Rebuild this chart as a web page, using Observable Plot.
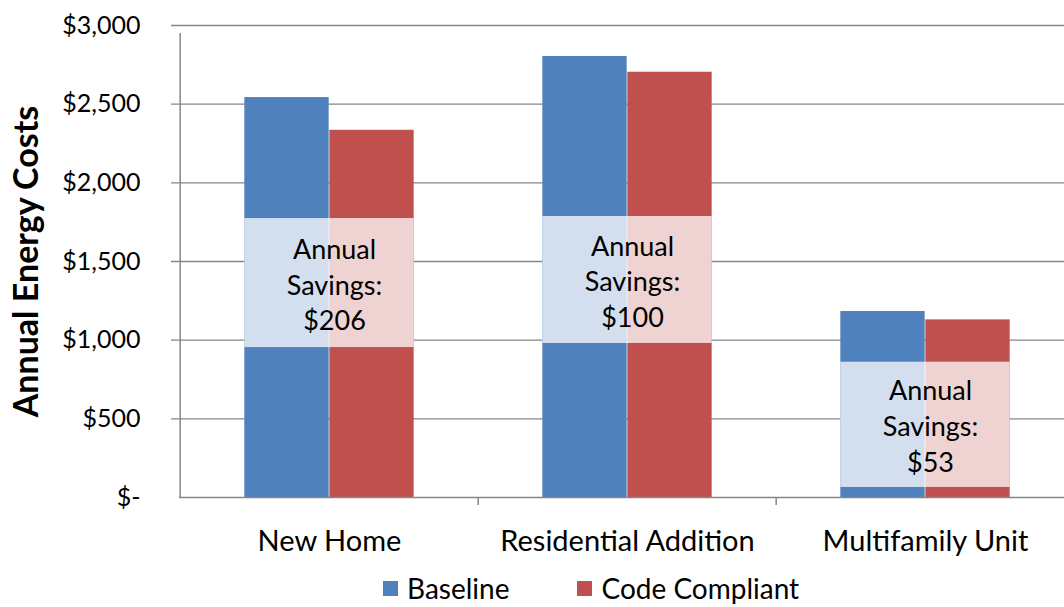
<!DOCTYPE html>
<html>
<head>
<meta charset="utf-8">
<script src="https://cdn.jsdelivr.net/npm/d3@7"></script>
<script src="https://cdn.jsdelivr.net/npm/@observablehq/plot@0.6"></script>
<style>
  html, body { margin: 0; padding: 0; background: #fff; overflow: hidden; }
  #chart svg { display: block; max-width: none !important; }
  .legend { display: flex; justify-content: flex-start; align-items: center; height: 44px; padding-top: 6px;
            font-family: Lato, "Open Sans", sans-serif; font-size: 28px; line-height: 28px; color: #000; }
  .legend .item { display: flex; align-items: center; }
  .legend .sw { width: 15px; height: 15px; margin-right: 9px; }
</style>
</head>
<body>
<div id="chart"></div>
<script>
// ---- data ----
const categories = ["New Home", "Residential Addition", "Multifamily Unit"];
const series = ["Baseline", "Code Compliant"];
const baseline = [2542, 2803, 1182];
const codeCompliant = [2334, 2703, 1129];
const savings = [206, 100, 53];
const boxLow = [953, 979, 64];
const boxHigh = [1773, 1786, 860];
const yTicks = [0, 500, 1000, 1500, 2000, 2500, 3000];
const yTickLabels = ["$-", "$500", "$1,000", "$1,500", "$2,000", "$2,500", "$3,000"];
const colors = ["#4f81bd", "#c0504d"];

// ---- layout ----
const width = 1075, height = 560;
const marginLeft = 179, marginRight = 0, marginTop = 25, marginBottom = 63;
const band = (width - marginLeft - marginRight) / categories.length;
const barW = 85;
const gap = (band - 2 * barW) / 2;
const font = "Lato, 'Open Sans', sans-serif";

const rows = categories.map((c, i) => ({
  cat: c, base: baseline[i], code: codeCompliant[i], sav: savings[i],
  lo: boxLow[i], hi: boxHigh[i], mid: (boxLow[i] + boxHigh[i]) / 2,
  label: "Annual\nSavings:\n$" + savings[i]
}));

const plot = Plot.plot({
  width, height, marginLeft, marginRight, marginTop, marginBottom,
  style: { fontFamily: font, background: "#fff", color: "#000", overflow: "visible" },
  x: { type: "band", domain: categories, padding: 0, label: null },
  y: { domain: [0, 3000], label: null },
  marks: [
    // gridlines (with left ticks)
    Plot.ruleY(yTicks.slice(1), { stroke: "#868686", strokeWidth: 1.3, insetLeft: -8 }),
    // bars
    Plot.barY(rows, { x: "cat", y: "base", fill: colors[0], insetLeft: gap, insetRight: gap + barW }),
    Plot.barY(rows, { x: "cat", y: "code", fill: colors[1], insetLeft: gap + barW, insetRight: gap }),
    // savings boxes
    Plot.barY(rows, { x: "cat", y1: "lo", y2: "hi", fill: "white", fillOpacity: 0.75, insetLeft: gap, insetRight: gap }),
    Plot.text(rows, { x: "cat", y: "mid", text: "label", fontSize: 27, lineHeight: 1.33, fill: "#000", dx: 5 }),
    // x axis line
    Plot.ruleY([0], { stroke: "#868686", strokeWidth: 1.5 }),
    // y axis line
    Plot.ruleX([categories[0]], { x: d => d, dx: -band / 2, y1: 0, y2: 3000, insetBottom: -8, stroke: "#868686", strokeWidth: 1.5 }),
    // category boundary ticks
    Plot.ruleX(categories.slice(1), { x: d => d, dx: -band / 2, y1: 0, y2: 0, insetBottom: -8, stroke: "#868686", strokeWidth: 1.5 }),
    Plot.axisY(yTicks, { tickSize: 0, tickPadding: 39, tickFormat: (d) => yTickLabels[yTicks.indexOf(d)], fontSize: 25, label: null }),
    Plot.axisX({ tickSize: 0, tickPadding: 33, fontSize: 29, label: null }),
    Plot.text(["Annual Energy Costs"], { frameAnchor: "left", rotate: -90, textAnchor: "middle", dx: -152, fontSize: 34, fontWeight: "bold", fill: "#000" })
  ]
});
document.getElementById("chart").appendChild(plot);

// legend
const legend = document.createElement("div");
legend.className = "legend";
series.forEach((s, i) => {
  const item = document.createElement("div");
  item.className = "item";
  item.style.marginLeft = i === 0 ? "383px" : "68px";
  const sw = document.createElement("span");
  sw.className = "sw";
  sw.style.background = colors[i];
  const t = document.createElement("span");
  t.textContent = s;
  item.appendChild(sw); item.appendChild(t);
  legend.appendChild(item);
});
document.body.appendChild(legend);
</script>
</body>
</html>
